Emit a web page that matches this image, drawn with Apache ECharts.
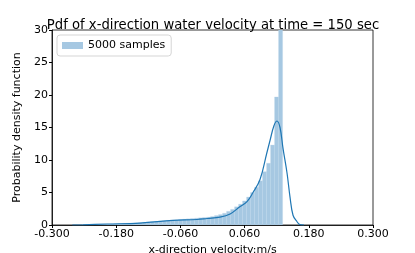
<!DOCTYPE html>
<html><head><meta charset="utf-8">
<script src="https://cdn.jsdelivr.net/npm/echarts@6/dist/echarts.min.js"></script>
<style>html,body{margin:0;padding:0;background:#fff}#c{width:415px;height:253px}</style>
</head><body><div id="c"></div>
<script>
var binStart = -0.243;
var binWidth = 0.00748;
var binHeights = [0.02,0.03,0.05,0.08,0.10,0.12,0.15,0.18,0.20,0.22,
  0.25,0.28,0.30,0.32,0.35,0.40,0.45,0.50,0.55,0.60,
  0.65,0.70,0.72,0.78,0.85,0.90,0.95,1.00,1.05,1.10,
  1.15,1.20,1.30,1.45,1.60,1.80,2.10,2.40,2.80,3.20,
  3.70,4.30,5.00,5.80,6.80,8.20,9.50,12.3,19.7,40];
var kdeX = [-0.262,-0.242,-0.197,-0.1355,-0.074,-0.029,-0.010,0.014,0.033,0.051,0.0645,0.0757,0.0888,0.1013,0.1075,0.115,0.1206,0.1262,0.1318,0.1393,0.1449,0.1505,0.158,0.1636,0.171];
var kdeY = [0,0.03,0.15,0.3,0.7,0.85,1.0,1.2,1.7,2.8,3.6,5.0,7.0,11,13,15.3,16,15,11.8,8,4.3,1.5,0.5,0.05,0];
var xTicks = [-0.3,-0.18,-0.06,0.06,0.18,0.3];

var histData = binHeights.map(function(h,i){return [binStart+i*binWidth, binStart+(i+1)*binWidth, h];});
var kdeData = kdeX.map(function(x,i){return [x,kdeY[i]];});

var chart = echarts.init(document.getElementById('c'));
var font = 'DejaVu Sans';
chart.setOption({
  animation:false,
  textStyle:{fontFamily:font},
  title:{text:'Pdf of x-direction water velocity at time = 150 sec', left:208, top:14, textAlign:'center',
    textStyle:{fontFamily:font,fontSize:13.2,fontWeight:'normal',color:'#000'}},
  legend:{data:['5000 samples'], left:57, top:35, orient:'vertical', icon:'rect', itemWidth:21, itemHeight:7,
    backgroundColor:'#fff', borderColor:'#d5d5d5', borderWidth:1, borderRadius:3, padding:[5,6,5,5], itemGap:4,
    textStyle:{fontFamily:font,fontSize:11,color:'#000'}},
  grid:{left:52,right:42,top:30,bottom:28,show:true,borderColor:'#000',borderWidth:0.8,outerBoundsMode:'none',containLabel:false},
  xAxis:{type:'value',min:-0.3,max:0.3,name:'x-direction velocity:m/s',nameLocation:'middle',nameGap:15,
    nameTextStyle:{fontFamily:font,fontSize:11,color:'#000'},
    axisLine:{show:true,onZero:false,lineStyle:{color:'#000',width:0.8}},
    axisTick:{show:true,customValues:xTicks,length:3,lineStyle:{color:'#000'}},
    axisLabel:{customValues:xTicks,fontFamily:font,fontSize:11,color:'#000',margin:4,formatter:function(v){return v.toFixed(3);}},
    splitLine:{show:false}},
  yAxis:{type:'value',min:0,max:30,interval:5,name:'Probability density function',nameLocation:'middle',nameGap:24,
    nameTextStyle:{fontFamily:font,fontSize:11,color:'#000'},
    axisLine:{show:true,onZero:false,lineStyle:{color:'#000',width:0.8}},
    axisTick:{show:true,length:3,lineStyle:{color:'#000'}},
    axisLabel:{fontFamily:font,fontSize:11,color:'#000',margin:4},
    splitLine:{show:false}},
  series:[
    {name:'5000 samples',type:'custom',clip:true,itemStyle:{color:'#a6c8e2'},
     data:histData,encode:{x:[0,1],y:2},
     renderItem:function(params,api){
       var p0=api.coord([api.value(0),api.value(2)]);
       var p1=api.coord([api.value(1),0]);
       return {type:'rect',shape:{x:p0[0],y:p0[1],width:p1[0]-p0[0],height:p1[1]-p0[1]},
         style:{fill:'#a6c8e2',stroke:'#b9d4e9',lineWidth:0.3}};
     }},
    {name:'kde',type:'line',data:kdeData,smooth:0.4,showSymbol:false,clip:true,
     lineStyle:{color:'#1f77b4',width:1.2}}
  ]
});
</script></body></html>
